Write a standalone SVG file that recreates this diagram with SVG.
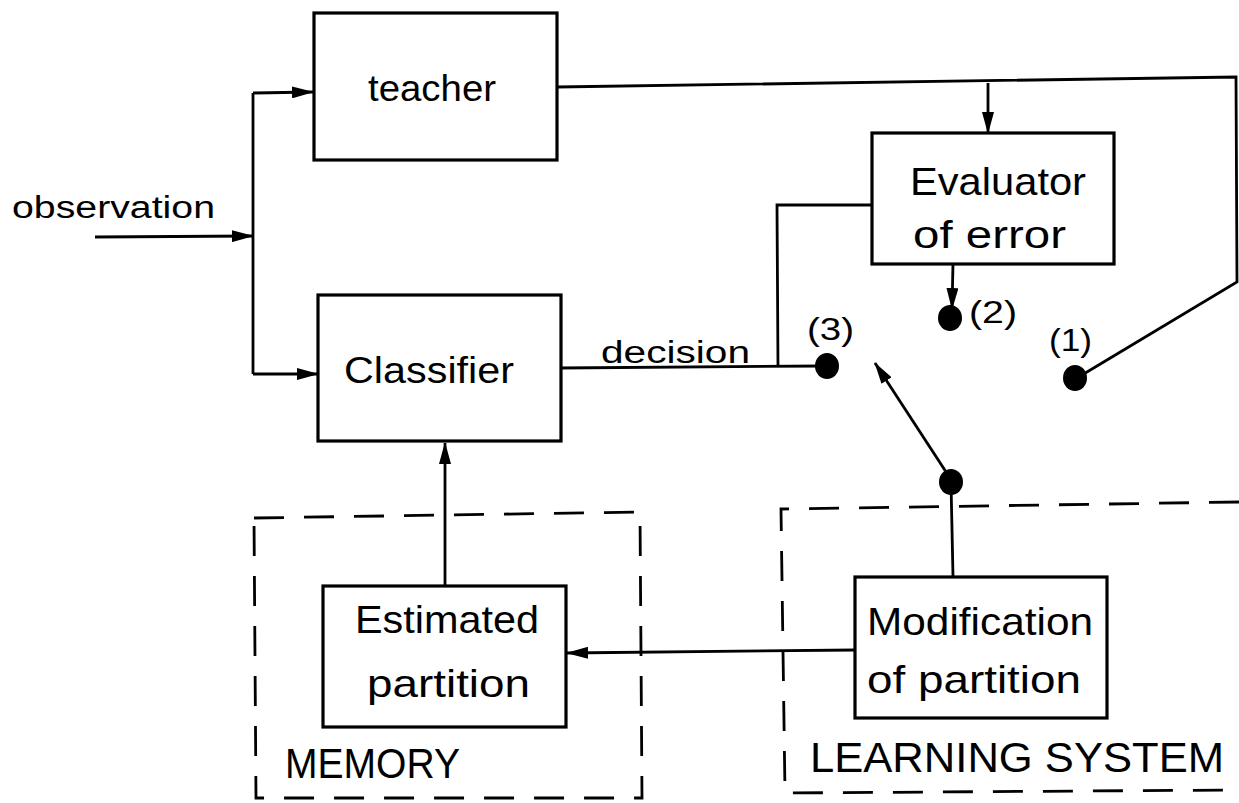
<svg xmlns="http://www.w3.org/2000/svg" width="1239" height="803" viewBox="0 0 1239 803">
<defs>
<marker id="ah" markerWidth="22" markerHeight="12" refX="21" refY="6" orient="auto" markerUnits="userSpaceOnUse">
<path d="M0,0 L22,6 L0,12 Z" fill="#000"/>
</marker>
<style>
.box{fill:#fff;stroke:#000;stroke-width:3.2}
.ln{fill:none;stroke:#000;stroke-width:2.8}
.dash{fill:none;stroke:#000;stroke-width:2.8;stroke-dasharray:30 20}
.t{font-family:"Liberation Sans",Arial,sans-serif;fill:#000;font-size:36px}
.s{font-size:31px}
.m{font-size:39px}
.l{font-size:43px}
.dot{fill:#000}
</style>
</defs>
<rect width="1239" height="803" fill="#fff"/>

<g id="memory">
<path class="dash" d="M254,518 L640,512 L642,798 L256,798 Z"/>
<text class="t l" x="285" y="778" textLength="175" lengthAdjust="spacingAndGlyphs">MEMORY</text>
</g>
<g id="learning-system">
<path class="dash" d="M1239,502 L781,509 L785,793 L1239,790"/>
<text class="t l" x="810" y="772" textLength="414" lengthAdjust="spacingAndGlyphs">LEARNING  SYSTEM</text>
</g>

<g id="connectors">
<path class="ln" d="M95,237 L253,236" marker-end="url(#ah)"/>
<path class="ln" d="M253,93 L253,374"/>
<path class="ln" d="M253,93 L313,92" marker-end="url(#ah)"/>
<path class="ln" d="M253,374 L318,374" marker-end="url(#ah)"/>
<path class="ln" d="M557,87 L1236,77 L1237,282 L1082,375"/>
<path class="ln" d="M988,83 L988,133" marker-end="url(#ah)"/>
<path class="ln" d="M560,368 L820,366"/>
<path class="ln" d="M778,367 L777,205 L871,205"/>
<path class="ln" d="M953,263 L952,309" marker-end="url(#ah)"/>
<path class="ln" d="M950,478 L875,363" marker-end="url(#ah)"/>
<path class="ln" d="M951,482 L953,577"/>
<path class="ln" d="M855,650 L567,653" marker-end="url(#ah)"/>
<path class="ln" d="M445,585 L445,443" marker-end="url(#ah)"/>
</g>

<g id="teacher">
<rect class="box" x="314" y="13" width="243" height="147"/>
<text class="t" x="368" y="101" textLength="128" lengthAdjust="spacingAndGlyphs">teacher</text>
</g>
<g id="observation">
<text class="t s" x="12" y="218" textLength="203" lengthAdjust="spacingAndGlyphs">observation</text>
</g>
<g id="classifier">
<rect class="box" x="318" y="295" width="243" height="146"/>
<text class="t" x="344" y="383" textLength="170" lengthAdjust="spacingAndGlyphs">Classifier</text>
</g>
<g id="decision">
<text class="t s" x="601" y="363" textLength="149" lengthAdjust="spacingAndGlyphs">decision</text>
</g>
<g id="evaluator">
<rect class="box" x="872" y="133" width="242" height="131"/>
<text class="t m" x="910" y="195" textLength="176" lengthAdjust="spacingAndGlyphs">Evaluator</text>
<text class="t m" x="913" y="248" textLength="153" lengthAdjust="spacingAndGlyphs">of  error</text>
</g>
<g id="contact-3">
<ellipse class="dot" cx="827" cy="366" rx="12" ry="13"/>
<text class="t s" x="807" y="340" textLength="47" lengthAdjust="spacingAndGlyphs">(3)</text>
</g>
<g id="contact-2">
<ellipse class="dot" cx="950" cy="318" rx="12" ry="13"/>
<text class="t s" x="969" y="323" textLength="48" lengthAdjust="spacingAndGlyphs">(2)</text>
</g>
<g id="contact-1">
<ellipse class="dot" cx="1075" cy="378" rx="12" ry="13"/>
<text class="t s" x="1049" y="351" textLength="43" lengthAdjust="spacingAndGlyphs">(1)</text>
</g>
<g id="switch-pivot">
<ellipse class="dot" cx="951" cy="482" rx="12" ry="13"/>
</g>
<g id="estimated-partition">
<rect class="box" x="323" y="586" width="243" height="141"/>
<text class="t m" x="355" y="633" textLength="184" lengthAdjust="spacingAndGlyphs">Estimated</text>
<text class="t m" x="367" y="697" textLength="163" lengthAdjust="spacingAndGlyphs">partition</text>
</g>
<g id="modification">
<rect class="box" x="855" y="577" width="252" height="141"/>
<text class="t m" x="867" y="635" textLength="226" lengthAdjust="spacingAndGlyphs">Modification</text>
<text class="t m" x="867" y="693" textLength="214" lengthAdjust="spacingAndGlyphs">of partition</text>
</g>
</svg>
